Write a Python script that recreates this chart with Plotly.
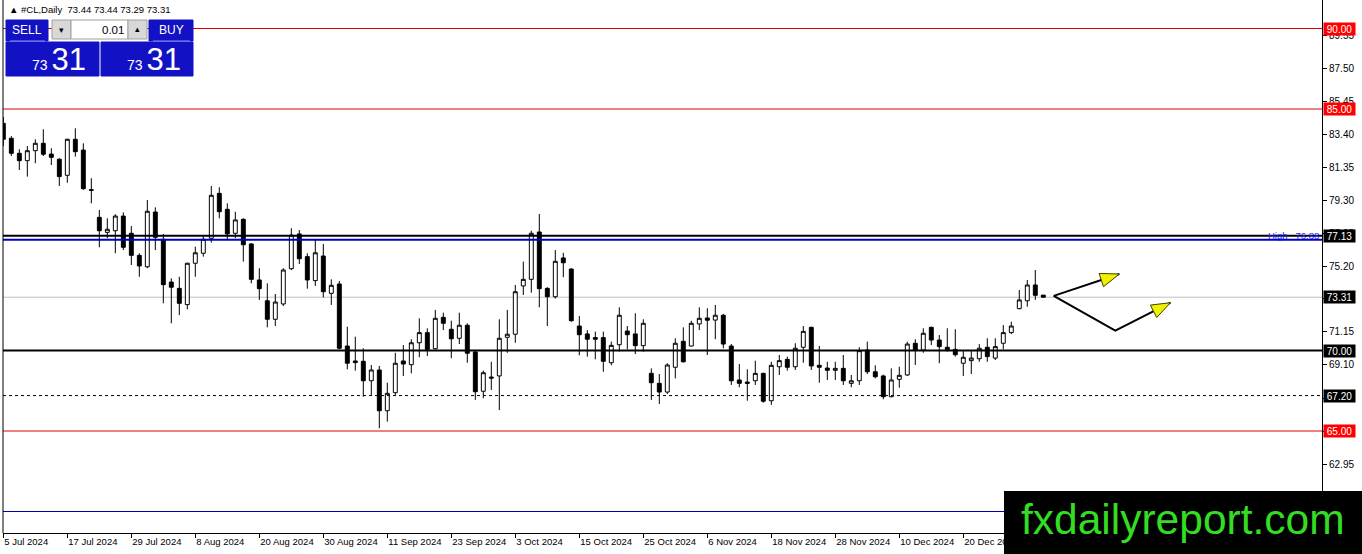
import pandas as pd
import plotly.graph_objects as go

# daily #CL candles
opens = [84.11, 83.18, 82.25, 81.79, 82.41, 82.87, 82.20, 81.88, 80.88, 83.12,
         82.45, 79.99, 78.27, 77.34, 77.44, 78.35, 77.28, 75.91, 75.20, 78.60,
         76.91, 74.25, 73.86, 72.85, 75.42, 76.04, 76.97, 79.76, 78.77, 77.28,
         78.15, 76.62, 74.38, 73.09, 71.94, 72.89, 75.08, 77.24, 75.83, 74.34,
         75.87, 73.55, 74.13, 70.28, 69.35, 69.33, 68.12, 68.79, 66.26, 67.38,
         69.35, 69.12, 70.48, 71.11, 70.11, 72.06, 71.32, 70.76, 71.57, 69.91,
         67.47, 68.35, 68.42, 70.82, 71.01, 74.01, 74.42, 77.36, 73.86, 73.34,
         75.75, 75.06, 71.52, 71.03, 70.80, 70.80, 69.24, 70.36, 71.21, 71.03,
         70.30, 68.58, 67.96, 67.42, 68.96, 70.57, 70.28, 71.65, 72.02, 71.89,
         72.19, 70.28, 68.17, 68.04, 68.12, 68.58, 66.88, 68.99, 69.45, 68.99,
         70.20, 71.44, 69.08, 68.91, 68.77, 68.89, 67.96, 68.12, 70.03, 68.68,
         68.42, 67.13, 68.21, 68.48, 70.45, 70.03, 71.44, 70.65, 70.20, 70.07,
         69.21, 69.37, 69.49, 70.20, 69.53, 70.45, 71.11, 72.60, 73.09, 74.07,
         73.44]
highs = [84.50, 83.32, 82.50, 82.70, 83.12, 83.74, 82.56, 81.94, 83.15, 83.80,
         82.87, 80.70, 78.73, 78.21, 78.46, 78.58, 77.73, 76.04, 79.35, 78.89,
         77.24, 74.48, 74.58, 75.45, 76.45, 77.17, 80.22, 80.14, 79.14, 78.62,
         78.21, 76.66, 75.11, 74.17, 73.51, 75.11, 77.59, 77.48, 76.04, 76.91,
         76.62, 74.42, 74.32, 71.48, 70.86, 70.14, 69.10, 69.04, 68.00, 69.86,
         70.34, 70.70, 72.00, 71.38, 72.52, 72.35, 71.85, 72.35, 71.69, 70.03,
         68.75, 69.30, 71.94, 72.52, 74.07, 75.52, 77.44, 78.48, 73.93, 76.24,
         76.07, 75.10, 72.14, 71.27, 71.17, 71.17, 70.55, 72.68, 71.52, 72.31,
         71.94, 68.89, 68.54, 69.21, 70.76, 71.44, 71.85, 72.68, 72.62, 72.83,
         72.27, 70.40, 69.16, 68.83, 69.37, 68.62, 69.30, 69.72, 69.62, 70.45,
         71.52, 71.47, 70.28, 69.30, 69.30, 69.72, 68.48, 70.20, 70.55, 69.08,
         68.50, 68.89, 68.99, 70.55, 70.70, 71.38, 71.48, 70.96, 71.38, 71.32,
         70.03, 70.03, 70.40, 70.76, 70.76, 71.58, 71.79, 73.76, 74.38, 75.00,
         73.44]
lows = [82.70, 82.08, 81.21, 80.80, 81.63, 82.08, 81.52, 80.22, 80.42, 82.04,
        79.98, 79.14, 76.41, 76.97, 76.04, 76.24, 75.31, 74.58, 75.11, 76.24,
        72.93, 71.69, 72.20, 72.56, 74.58, 75.83, 76.70, 78.21, 76.86, 76.97,
        75.52, 74.17, 73.14, 71.44, 71.52, 72.76, 75.00, 75.37, 73.84, 74.01,
        73.30, 72.83, 70.07, 68.83, 68.75, 67.13, 67.24, 65.17, 65.58, 67.24,
        68.42, 68.58, 69.58, 69.66, 70.07, 71.27, 69.52, 70.40, 69.24, 66.93,
        67.03, 67.55, 66.30, 69.86, 70.48, 73.45, 73.59, 72.68, 71.52, 73.22,
        74.55, 71.79, 69.70, 69.62, 69.45, 68.68, 69.08, 69.93, 70.07, 69.78,
        69.93, 66.93, 66.68, 67.30, 68.27, 69.25, 70.24, 71.27, 69.72, 70.70,
        70.14, 67.86, 67.71, 66.88, 67.86, 66.76, 66.62, 68.48, 68.75, 68.79,
        69.24, 68.79, 68.00, 68.17, 68.17, 67.86, 67.71, 67.86, 68.54, 68.27,
        66.97, 67.09, 67.69, 68.42, 69.10, 69.86, 70.34, 69.21, 69.93, 69.62,
        68.42, 68.54, 69.30, 69.30, 69.41, 70.07, 71.02, 72.56, 72.72, 73.14,
        73.29]
closes = [83.12, 82.25, 81.79, 82.41, 82.87, 82.19, 82.00, 80.80, 83.12, 82.35,
          80.05, 79.95, 77.44, 77.53, 78.35, 76.41, 75.91, 75.25, 78.65, 77.03,
          74.09, 73.93, 72.93, 75.42, 76.07, 76.91, 79.64, 78.62, 77.24, 78.11,
          76.57, 74.42, 73.84, 71.94, 73.01, 75.00, 77.17, 75.70, 74.38, 76.07,
          73.65, 74.05, 70.14, 69.21, 69.25, 68.12, 68.79, 66.26, 67.34, 69.21,
          69.16, 70.48, 71.11, 70.07, 72.00, 71.69, 70.73, 71.57, 69.83, 67.44,
          68.62, 68.29, 70.76, 71.01, 73.65, 74.42, 77.28, 73.84, 73.34, 75.54,
          75.45, 71.85, 70.98, 70.70, 70.70, 69.33, 70.32, 72.19, 70.98, 70.30,
          71.69, 68.00, 67.42, 69.10, 70.45, 69.30, 71.69, 72.00, 71.88, 72.19,
          70.40, 68.12, 67.96, 67.96, 68.58, 66.85, 69.08, 69.37, 68.96, 70.14,
          71.19, 69.04, 68.96, 68.77, 68.89, 68.12, 68.12, 69.99, 68.68, 68.37,
          67.13, 68.17, 68.46, 70.40, 70.03, 71.07, 70.65, 70.24, 70.07, 69.74,
          69.58, 69.53, 70.14, 69.62, 70.24, 71.11, 71.52, 73.14, 74.07, 73.43,
          73.31]

dates = pd.bdate_range("2024-07-05", periods=len(opens))
date_labels = [f"{d.day} {d.strftime('%b %Y')}" for d in dates]
label_step = 8

# right axis scale as MT4 prints it
price_ticks = [89.55, 87.50, 85.45, 83.40, 81.35, 79.30, 77.25, 75.20, 73.20,
               71.15, 69.10, 67.05, 65.00, 62.95, 60.90]

# horizontal levels drawn on the chart
red_levels = [90.00, 85.00, 65.00]
black_levels = [77.13, 70.00]
high_level = 76.88
bid_level = 73.31
dashed_level = 67.20
low_blue_level = 60.00

# arrow paths (bar index, price)
arrow_up = [(131.3, 73.39), (139.5, 74.75)]
arrow_down = [(131.3, 73.39), (139.0, 71.23), (145.9, 72.97)]

W, H = 1362, 554
L, R, T, B = 3, 40, 0, 21
PW, PH = W - L - R, H - T - B
xr = [-0.04, 164.84]
yr = [58.665, 91.77]


def fx(px):
    return (px - L) / PW


def fy(py):
    return 1 - (py - T) / PH


x = list(range(len(opens)))
fig = go.Figure()
fig.add_trace(go.Candlestick(
    x=x, open=opens, high=highs, low=lows, close=closes,
    increasing=dict(line=dict(color="black", width=1), fillcolor="white"),
    decreasing=dict(line=dict(color="black", width=1), fillcolor="black"),
    whiskerwidth=0, showlegend=False, hoverinfo="skip"))

shapes = []
for lv in red_levels:
    shapes.append(dict(type="line", xref="paper", x0=0, x1=1, y0=lv, y1=lv,
                       line=dict(color="#e00000", width=1)))
for lv in black_levels:
    shapes.append(dict(type="line", xref="paper", x0=0, x1=1, y0=lv, y1=lv,
                       line=dict(color="black", width=2)))
shapes.append(dict(type="line", xref="paper", x0=0, x1=1, y0=high_level, y1=high_level,
                   line=dict(color="#0000cc", width=2)))
shapes.append(dict(type="line", xref="paper", x0=0, x1=1, y0=bid_level, y1=bid_level,
                   line=dict(color="#c0c0c0", width=1), layer="below"))
shapes.append(dict(type="line", xref="paper", x0=0, x1=1, y0=dashed_level, y1=dashed_level,
                   line=dict(color="black", width=1, dash="3px,3px")))
shapes.append(dict(type="line", xref="paper", x0=0, x1=1, y0=low_blue_level, y1=low_blue_level,
                   line=dict(color="#0000aa", width=1)))
# left frame
shapes.append(dict(type="line", xref="paper", yref="paper", x0=0, x1=0, y0=0, y1=1,
                   line=dict(color="black", width=1)))

# arrows: black shafts + yellow heads
for pts in [arrow_up, arrow_down]:
    fig.add_trace(go.Scatter(x=[p[0] for p in pts], y=[p[1] for p in pts], mode="lines",
                             line=dict(color="black", width=2), showlegend=False,
                             hoverinfo="skip"))
    (x0, y0), (x1, y1) = pts[-2], pts[-1]
    sx = PW / (xr[1] - xr[0])
    sy = PH / (yr[1] - yr[0])
    dx, dy = (x1 - x0) * sx, (y1 - y0) * sy
    n = (dx ** 2 + dy ** 2) ** 0.5
    dx, dy = dx / n, dy / n
    hl, hw = 19, 7
    bx, by = -dx * hl, -dy * hl
    path = (f"M 0,0 L {bx - dy * hw:.1f},{by + dx * hw:.1f} "
            f"L {bx + dy * hw:.1f},{by - dx * hw:.1f} Z")
    shapes.append(dict(type="path", xsizemode="pixel", ysizemode="pixel",
                       xanchor=x1, yanchor=y1, path=path,
                       fillcolor="#f0f000", line=dict(color="#404000", width=1)))

# trade panel
blue = "#1212c4"
panel = [
    (6, 20, 48, 41, blue, blue),
    (101, 42, 193, 76, blue, blue),
    (6, 42, 99, 76, blue, blue),
    (149, 20, 193, 41, blue, blue),
    (52, 20, 71, 39, "#d8d8d8", "#a0a0a0"),
    (71, 20, 128, 39, "white", "#a0a0a0"),
    (128, 20, 147, 39, "#d8d8d8", "#a0a0a0"),
]
for x0, y0, x1, y1, fc, lc in panel:
    shapes.append(dict(type="rect", xref="paper", yref="paper", x0=fx(x0), x1=fx(x1),
                       y0=fy(y1), y1=fy(y0), fillcolor=fc, line=dict(color=lc, width=1),
                       layer="above"))
for x0, x1 in [(10, 45), (153, 190)]:
    shapes.append(dict(type="line", xref="paper", yref="paper", x0=fx(x0), x1=fx(x1),
                       y0=fy(41), y1=fy(41), line=dict(color="#8a8aff", width=1)))

# watermark box
shapes.append(dict(type="rect", xref="paper", yref="paper", x0=fx(1004), x1=fx(1362),
                   y0=fy(554), y1=fy(491), fillcolor="black", line=dict(width=0),
                   layer="above"))

ann = []


def txt(px, py, s, size, color="black", xanchor="center", family="Liberation Sans", **kw):
    ann.append(dict(xref="paper", yref="paper", x=fx(px), y=fy(py), text=s,
                    showarrow=False, xanchor=xanchor, yanchor="middle",
                    font=dict(size=size, color=color, family=family), **kw))


txt(7, 9, "▲ #CL,Daily  73.44 73.44 73.29 73.31", 9.5, xanchor="left")
txt(27, 30, "SELL", 12, "white")
txt(171, 30, "BUY", 12, "white")
txt(61, 30, "▾", 9)
txt(137, 29, "▴", 9)
txt(126, 30, "0.01", 11.5, xanchor="right")
txt(59, 59, "<span style='font-size:14px'>73 </span>31", 31, "white")
txt(154, 59, "<span style='font-size:14px'>73 </span>31", 31, "white")
txt(1183, 519, "fxdailyreport.com", 42.5, "#33dd22")

for lv in red_levels + black_levels + [bid_level, dashed_level]:
    ann.append(dict(xref="paper", yref="y", x=fx(1323), y=lv, text=f"{lv:.2f}",
                    showarrow=False, xanchor="left", yanchor="middle",
                    bgcolor="#ff0000" if lv in red_levels else "black",
                    width=31, height=12, borderpad=0,
                    font=dict(size=10, color="white", family="Liberation Sans")))
ann.append(dict(xref="paper", yref="y", x=fx(1321), y=high_level, text=f"High   {high_level:.2f}",
                showarrow=False, xanchor="right", yanchor="bottom", yshift=-3,
                font=dict(size=9.5, color="#2020ff", family="Liberation Sans")))

fig.update_layout(
    width=W, height=H,
    margin=dict(l=L, r=R, t=T, b=B),
    paper_bgcolor="white", plot_bgcolor="white",
    shapes=shapes, annotations=ann,
    showlegend=False,
    xaxis=dict(range=xr, rangeslider=dict(visible=False), showgrid=False,
               zeroline=False, showline=True, linecolor="black", linewidth=1,
               automargin=False,
               tickvals=x[::label_step], ticktext=date_labels[::label_step],
               ticks="outside", ticklen=4, tickcolor="black",
               ticklabelposition="outside right",
               tickfont=dict(size=9.5, family="Liberation Sans", color="black")),
    yaxis=dict(range=yr, side="right", showgrid=False, zeroline=False,
               showline=True, linecolor="black", linewidth=1,
               automargin=False,
               tickvals=price_ticks, ticktext=[f"{v:.2f}" for v in price_ticks],
               ticks="outside", ticklen=4, tickcolor="black",
               tickfont=dict(size=10, family="Liberation Sans", color="black")),
)

# page margin off so the figure sits at the window's top-left corner
fig.write_html("out.html", config={"displayModeBar": False},
               post_script="document.body.style.margin='0px';")
